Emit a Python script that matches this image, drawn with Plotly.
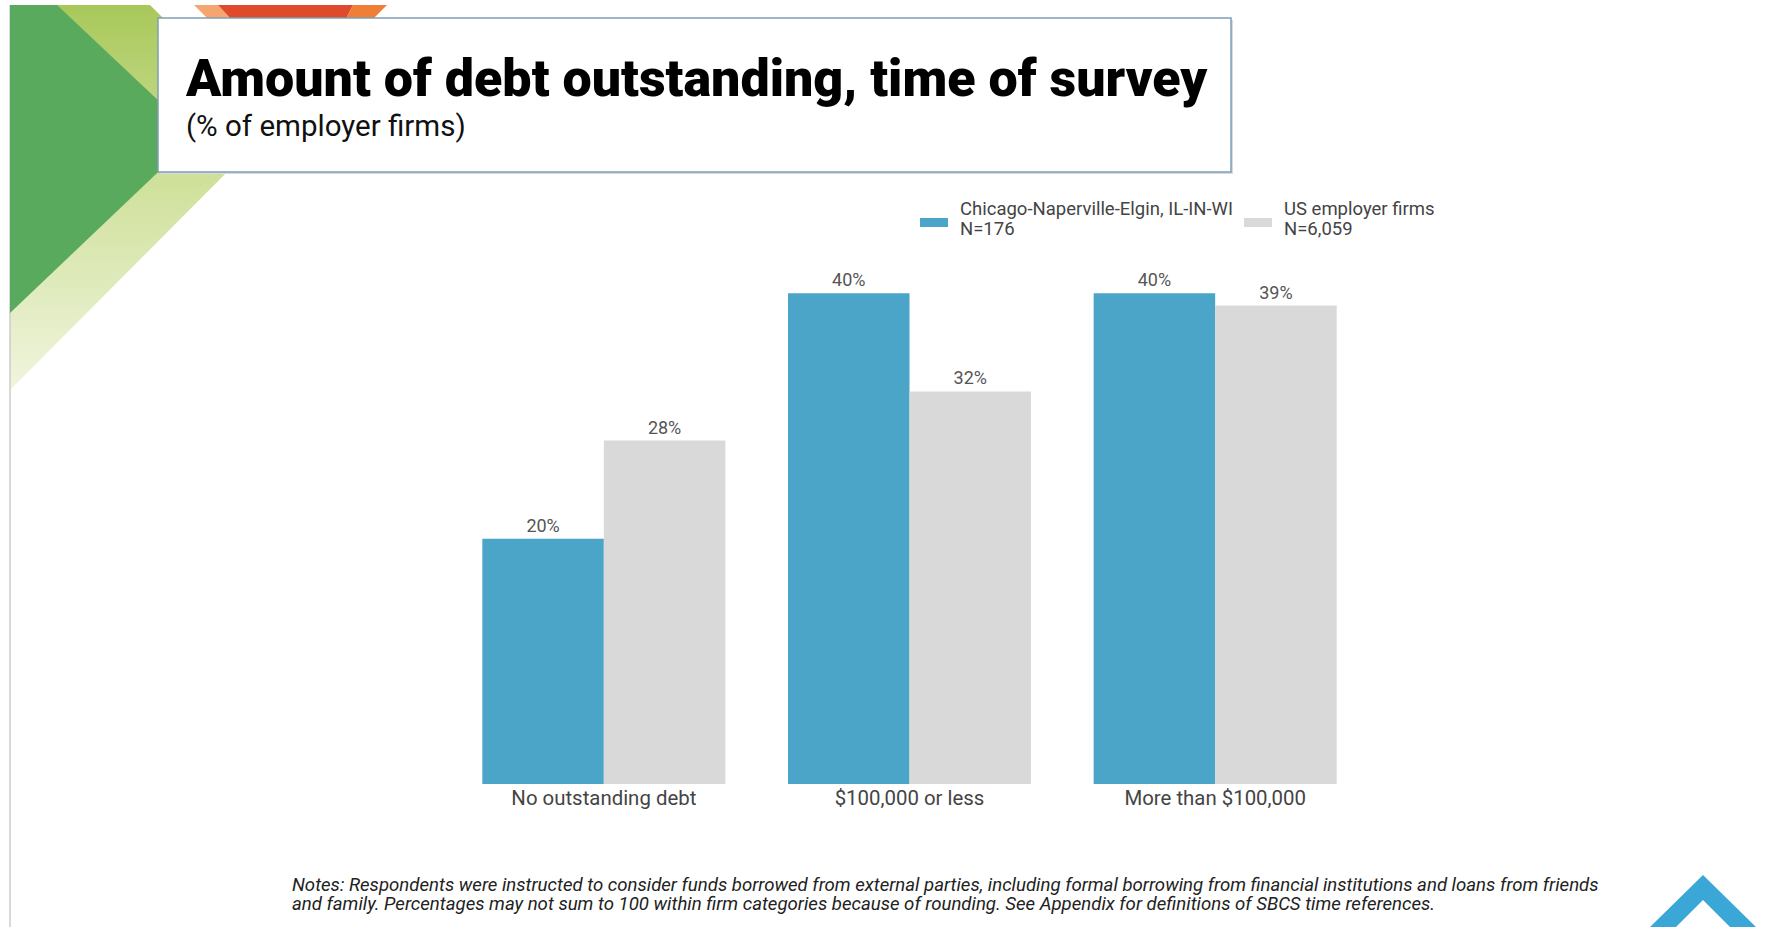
import plotly.graph_objects as go

# ---- data -------------------------------------------------------------
categories = ["No outstanding debt", "$100,000 or less", "More than $100,000"]
chicago_pct = [20, 40, 40]
us_pct = [28, 32, 39]

series_names = ["Chicago-Naperville-Elgin, IL-IN-WI", "US employer firms"]
series_sizes = ["N=176", "N=6,059"]

title_text = "Amount of debt outstanding, time of survey"
subtitle_text = "(% of employer firms)"
notes_lines = [
    "Notes: Respondents were instructed to consider funds borrowed from external parties, "
    "including formal borrowing from financial institutions and loans from friends",
    "and family. Percentages may not sum to 100 within firm categories because of rounding. "
    "See Appendix for definitions of SBCS time references.",
]

# ---- style ------------------------------------------------------------
W, H = 1781, 927
BLUE = "#4ba5c8"
GREY = "#d9d9d9"
FONT = "Roboto"

# plot area in pixels
PX_L, PX_R = 451, 1368
PX_BOTTOM, PX_TOP = 784, 232
Y_MAX = 45

fig = go.Figure()

fig.add_trace(go.Bar(
    x=categories, y=chicago_pct, name=series_names[0],
    marker=dict(color=BLUE, line=dict(width=0)),
    texttemplate="%{y}%", textposition="outside",
    textfont=dict(family=FONT, size=18, color="#555555"),
    cliponaxis=False, showlegend=False,
))
fig.add_trace(go.Bar(
    x=categories, y=us_pct, name=series_names[1],
    marker=dict(color=GREY, line=dict(width=0)),
    texttemplate="%{y}%", textposition="outside",
    textfont=dict(family=FONT, size=18, color="#555555"),
    cliponaxis=False, showlegend=False,
))

# ---- decorative slide frame on a full-page pixel axis ------------------
# light green band with a vertical fade
fig.add_trace(go.Scatter(
    x=[10, 150, 272, 10, 10], y=[5, 5, 127, 390, 5],
    xaxis="x2", yaxis="y2", mode="none", fill="toself",
    fillgradient=dict(type="vertical", start=5, stop=390,
                      colorscale=[[0, "#a8c85a"], [0.45, "#cfe09a"], [1, "#f0f5de"]]),
    hoverinfo="skip", showlegend=False,
))

shapes = []
# left frame line
shapes.append(dict(type="line", xref="x2", yref="y2", x0=10, x1=10, y0=5, y1=927,
                   line=dict(color="#cccccc", width=1.5)))
# dark green triangle
shapes.append(dict(type="path", xref="x2", yref="y2",
                   path="M10,5 L57,5 L196,136 L10,313 Z",
                   fillcolor="#5aaa5e", line=dict(width=0)))
# orange strip at the top edge
shapes.append(dict(type="path", xref="x2", yref="y2",
                   path="M194,5 L218,5 L231,19 L208,19 Z",
                   fillcolor="#f6a570", line=dict(width=0)))
shapes.append(dict(type="path", xref="x2", yref="y2",
                   path="M218,5 L353,5 L346,19 L231,19 Z",
                   fillcolor="#de4a2b", line=dict(width=0)))
shapes.append(dict(type="path", xref="x2", yref="y2",
                   path="M353,5 L387,5 L373,19 L346,19 Z",
                   fillcolor="#ef7f36", line=dict(width=0)))
# title box with a soft shadow
shapes.append(dict(type="rect", xref="x2", yref="y2", x0=160, x1=1233, y0=20, y1=174,
                   fillcolor="#d5dde3", line=dict(width=0)))
shapes.append(dict(type="rect", xref="x2", yref="y2", x0=158, x1=1231, y0=18, y1=172,
                   fillcolor="white", line=dict(color="#7f9eb4", width=1.5)))
# blue chevron in the bottom-right corner
shapes.append(dict(type="path", xref="x2", yref="y2",
                   path="M1650,927 L1703,875 L1756,927 L1730,927 L1703,900 L1676,927 Z",
                   fillcolor="#3ba7d7", line=dict(width=0)))
# legend swatches
shapes.append(dict(type="rect", xref="x2", yref="y2", x0=920, x1=948, y0=218, y1=227,
                   fillcolor=BLUE, line=dict(width=0)))
shapes.append(dict(type="rect", xref="x2", yref="y2", x0=1244, x1=1272, y0=218, y1=227,
                   fillcolor=GREY, line=dict(width=0)))

annotations = []


def label(text, x, y, size, color, weight="normal", style="normal"):
    annotations.append(dict(
        text=text, x=x, y=y, xref="x2", yref="y2",
        xanchor="left", yanchor="middle", showarrow=False,
        font=dict(family=FONT, size=size, color=color, weight=weight, style=style),
    ))


label(title_text, 183, 78, 52, "#000000", weight=900)
label(subtitle_text, 184, 126, 29.5, "#111111")
# legend text
label(series_names[0], 958, 209, 18.5, "#444444")
label(series_sizes[0], 958, 229, 18.5, "#444444")
label(series_names[1], 1282, 209, 18.5, "#444444")
label(series_sizes[1], 1282, 229, 18.5, "#444444")
# notes
label(notes_lines[0], 290, 885, 18.6, "#222222", style="italic")
label(notes_lines[1], 290, 904, 18.6, "#222222", style="italic")

fig.update_layout(
    width=W, height=H,
    margin=dict(l=0, r=0, t=0, b=0),
    paper_bgcolor="white", plot_bgcolor="rgba(0,0,0,0)",
    barmode="group", bargap=0.205, bargroupgap=0,
    font=dict(family=FONT),
    xaxis=dict(domain=[PX_L / W, PX_R / W], anchor="y",
               showline=False, showgrid=False, zeroline=False, ticks="",
               tickfont=dict(family=FONT, size=20.4, color="#444444")),
    yaxis=dict(domain=[(H - PX_BOTTOM) / H, (H - PX_TOP) / H], anchor="x",
               range=[0, Y_MAX], visible=False, showgrid=False, zeroline=False),
    xaxis2=dict(domain=[0, 1], anchor="y2", range=[0, W], visible=False, fixedrange=True),
    yaxis2=dict(domain=[0, 1], anchor="x2", range=[H, 0], visible=False, fixedrange=True),
    shapes=shapes,
    annotations=annotations,
)

fig.write_html("out.html")
